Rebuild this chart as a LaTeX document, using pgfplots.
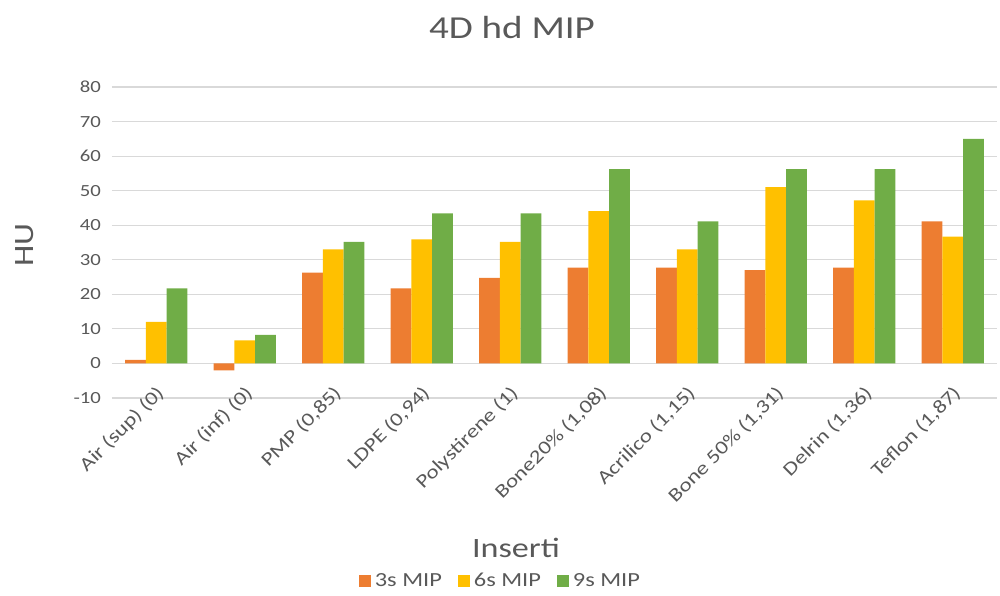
\documentclass[border=0pt]{standalone}
\usepackage{pgfplots}
\pgfplotsset{compat=1.18}
\usepackage{fontspec}
\setmainfont{Carlito}[FakeStretch=1.22]
\definecolor{c3s}{HTML}{ED7D31}
\definecolor{c6s}{HTML}{FFC000}
\definecolor{c9s}{HTML}{70AD47}
\definecolor{txt}{HTML}{595959}
\definecolor{grd}{HTML}{D9D9D9}
\begin{document}
\begin{tikzpicture}
\begin{axis}[
  at={(0,0)}, anchor=south west,
  scale only axis, width=442.5pt, height=155.5pt,
  ybar=0pt, bar width=10.35pt,
  xmin=-0.5, xmax=9.5, ymin=-10, ymax=80,
  ytick={-10,0,...,80},
  xtick=data,
  xticklabels={{Air (sup) (0)},{Air (inf) (0)},{PMP (0,85)},{LDPE (0,94)},{Polystirene (1)},{Bone20\% (1,08)},{Acrilico (1,15)},{Bone 50\% (1,31)},{Delrin (1,36)},{Teflon (1,87)}},
  xticklabel style={rotate=45, anchor=east, font=\fontsize{9.5}{11}\selectfont, text=txt, xshift=8pt, yshift=1pt},
  yticklabel style={font=\fontsize{8.5}{10}\selectfont, text=txt, xshift=-2pt},
  /pgf/number format/assume math mode=true,
  ymajorgrids, grid style={grd, line width=0.6pt},
  axis line style={draw=none},
  major tick length=0pt,
  clip=false,
  legend columns=3,
  legend style={draw=none, fill=none, at={(0.44,-0.59)}, anchor=center, font=\fontsize{10}{11}\selectfont, text=txt,
    /tikz/every even column/.append style={column sep=6pt}},
  legend image code/.code={\fill[#1] (0pt,-3pt) rectangle (6pt,3pt);},
]
\addplot[fill=c3s, draw=none] coordinates {(0,1) (1,-2) (2,26.3) (3,21.7) (4,24.8) (5,27.7) (6,27.7) (7,27) (8,27.7) (9,41.1)};
\addplot[fill=c6s, draw=none] coordinates {(0,12) (1,6.7) (2,33) (3,35.9) (4,35.2) (5,44.1) (6,33) (7,51) (8,47.2) (9,36.7)};
\addplot[fill=c9s, draw=none] coordinates {(0,21.7) (1,8.3) (2,35.2) (3,43.4) (4,43.4) (5,56.2) (6,41.1) (7,56.2) (8,56.2) (9,65)};
\legend{3s MIP,6s MIP,9s MIP}
\end{axis}
\node[text=txt, font=\fontsize{16}{18}\selectfont] at (200pt,185pt) {4D hd MIP};
\node[text=txt, font=\fontsize{14}{16}\selectfont, rotate=90] at (-43.5pt,76.5pt) {HU};
\node[text=txt, font=\fontsize{14}{16}\selectfont] at (202pt,-75pt) {Inserti};
\pgfresetboundingbox
\path (-56pt,-98.5pt) rectangle (444pt,199pt);
\end{tikzpicture}
\end{document}
